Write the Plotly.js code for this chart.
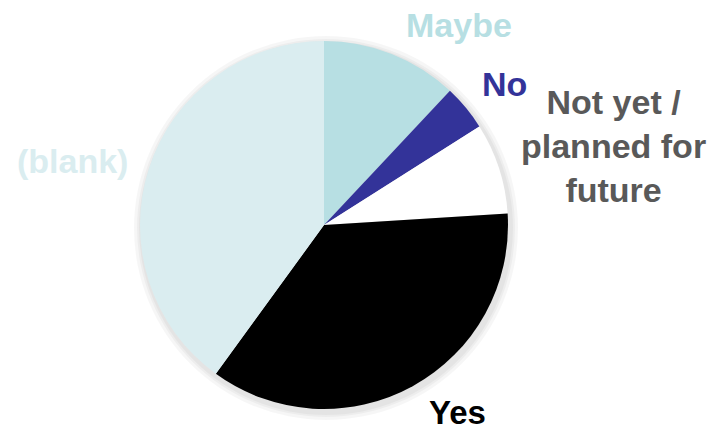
<!DOCTYPE html>
<html>
<head>
<meta charset="utf-8">
<script src="https://cdn.plot.ly/plotly-3.0.1.min.js"></script>
<style>html,body{margin:0;padding:0;background:#fff;}#chart{width:715px;height:434px;}</style>
</head>
<body>
<div id="chart"></div>
<script>
const labels = ["Maybe", "No", "Not yet / planned for future", "Yes", "(blank)"];
const values = [12, 4, 8, 36, 40];
const sliceColors = ["#b7dfe3", "#333399", "#ffffff", "#000000", "#daedf0"];
const labelColors = ["#b7dfe3", "#333399", "#595959", "#000000", "#daedf0"];
const labelTexts = ["Maybe", "No", "Not yet /<br>planned for<br>future", "Yes", "(blank)"];

const W = 715, H = 434;
const cx = 324, cy = 225, R = 184;
const px = x => x / W, py = y => 1 - y / H;

const labelPos = [[459, 25], [505, 84], [613, 146], [457, 412], [72, 161]];

const annotations = labelTexts.map((t, i) => ({
  text: "<b>" + t + "</b>",
  x: px(labelPos[i][0]), y: py(labelPos[i][1]),
  xref: "paper", yref: "paper", showarrow: false,
  xanchor: "center", yanchor: "middle",
  font: {family: "Liberation Sans", size: i === 3 ? 33 : 34, color: labelColors[i]},
  align: "center"
}));

const shapes = [8, 5, 3].map((d, i) => ({
  type: "circle", xref: "paper", yref: "paper", layer: "below",
  x0: px(cx - R - d + 2), x1: px(cx + R + d + 2),
  y0: py(cy + R + d + 3), y1: py(cy - R - d + 3),
  fillcolor: "rgba(0,0,0,0.035)", line: {width: 0}
}));

const data = [{
  type: "pie",
  labels: labels,
  values: values,
  marker: {colors: sliceColors, line: {width: 0}},
  sort: false,
  direction: "clockwise",
  rotation: 0,
  textinfo: "none",
  hoverinfo: "label+value",
  domain: {x: [px(cx - R), px(cx + R)], y: [py(cy + R), py(cy - R)]}
}];

const layout = {
  width: W, height: H,
  margin: {l: 0, r: 0, t: 0, b: 0},
  paper_bgcolor: "#ffffff",
  showlegend: false,
  annotations: annotations,
  shapes: shapes
};

Plotly.newPlot("chart", data, layout, {displayModeBar: false, staticPlot: true});
</script>
</body>
</html>
